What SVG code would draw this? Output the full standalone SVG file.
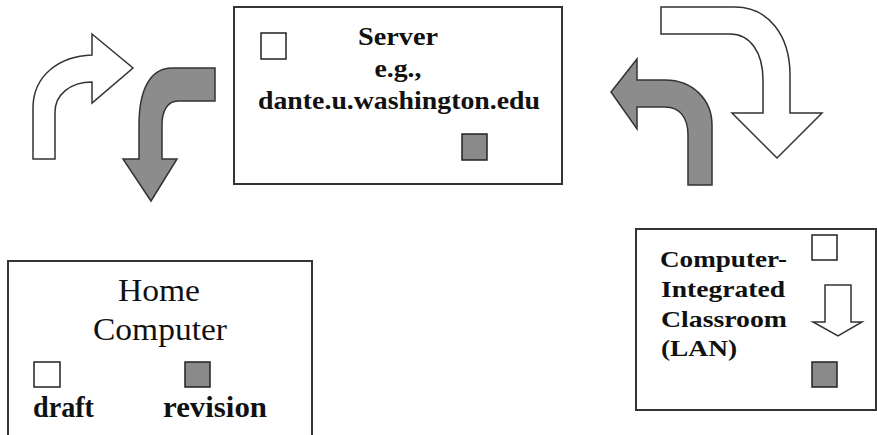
<svg xmlns="http://www.w3.org/2000/svg" width="877" height="435" viewBox="0 0 877 435">
  <style>
    .box { fill: #ffffff; stroke: #333333; stroke-width: 2; }
    .sq-w { fill: #ffffff; stroke: #222222; stroke-width: 1.5; }
    .sq-g { fill: #8a8a8a; stroke: #222222; stroke-width: 1.5; }
    .arr-w { fill: #ffffff; stroke: #333333; stroke-width: 1.5; stroke-linejoin: miter; }
    .arr-g { fill: #8c8c8c; stroke: #333333; stroke-width: 1.5; stroke-linejoin: miter; }
    .serif { font-family: "Liberation Serif", "Times New Roman", serif; fill: #111111; }
    .bold { font-weight: bold; }
  </style>
  <rect width="877" height="435" fill="#ffffff"/>

  <!-- Server -->
  <g id="server">
    <rect class="box" x="234" y="7" width="328" height="177"/>
    <rect class="sq-w" x="261" y="33" width="25" height="26"/>
    <rect class="sq-g" x="462" y="134" width="25" height="26"/>
    <text class="serif bold" font-size="26" text-anchor="middle" x="398" y="45" textLength="80" lengthAdjust="spacingAndGlyphs">Server</text>
    <text class="serif bold" font-size="26" text-anchor="middle" x="398" y="77" textLength="47" lengthAdjust="spacingAndGlyphs">e.g.,</text>
    <text class="serif bold" font-size="26" text-anchor="middle" x="399" y="109" textLength="282" lengthAdjust="spacingAndGlyphs">dante.u.washington.edu</text>
  </g>

  <!-- Home Computer -->
  <g id="home">
    <rect class="box" x="8" y="261" width="304" height="185"/>
    <text class="serif" font-size="32" text-anchor="middle" x="159" y="301" textLength="82" lengthAdjust="spacingAndGlyphs">Home</text>
    <text class="serif" font-size="32" text-anchor="middle" x="160" y="340" textLength="134" lengthAdjust="spacingAndGlyphs">Computer</text>
    <rect class="sq-w" x="34" y="362" width="26" height="25"/>
    <rect class="sq-g" x="185" y="362" width="25" height="25"/>
    <text class="serif bold" font-size="29" x="33" y="417" textLength="61" lengthAdjust="spacingAndGlyphs">draft</text>
    <text class="serif bold" font-size="29" x="163" y="417" textLength="104" lengthAdjust="spacingAndGlyphs">revision</text>
  </g>

  <!-- Computer-Integrated Classroom -->
  <g id="classroom">
    <rect class="box" x="636" y="229" width="240" height="181"/>
    <text class="serif bold" font-size="24" x="660" y="267" textLength="127" lengthAdjust="spacingAndGlyphs">Computer-</text>
    <text class="serif bold" font-size="24" x="661" y="297" textLength="124" lengthAdjust="spacingAndGlyphs">Integrated</text>
    <text class="serif bold" font-size="24" x="661" y="327" textLength="126" lengthAdjust="spacingAndGlyphs">Classroom</text>
    <text class="serif bold" font-size="24" x="661" y="356" textLength="76" lengthAdjust="spacingAndGlyphs">(LAN)</text>
    <rect class="sq-w" x="812" y="235" width="25" height="25"/>
    <path class="arr-w" d="M825,285 L851,285 L851,322 L862,322 L838,336 L813,322 L825,322 Z"/>
    <rect class="sq-g" x="812" y="362" width="25" height="25"/>
  </g>

  <!-- Transfer arrows -->
  <g id="connectors">
    <!-- home to server (white, up and right) -->
    <path class="arr-w" d="M33,159 L33,108 C33,75 60,56 92,55 L92,34 L133,68 L92,103 L92,82 C70,82 55,95 55,112 L55,159 Z"/>
    <!-- server to home (gray, left and down) -->
    <path class="arr-g" d="M215,68 L172,68 C150,68 139,90 139,125 L139,159 L123,159 L151,201 L177,159 L162,159 L162,125 C162,110 168,101 178,101 L215,101 Z"/>
    <!-- server to classroom (white, right and down) -->
    <path class="arr-w" d="M661,7 L735,7 C768,7 790,35 790,75 L790,113 L822,113 L777,158 L732,113 L763,113 L763,80 C763,52 750,34 730,34 L661,34 Z"/>
    <!-- classroom to server (gray, up and left) -->
    <path class="arr-g" d="M688,185 L688,135 C688,118 680,107 665,107 L637,107 L637,129 L611,92 L637,59 L637,80 L665,80 C693,80 712,100 712,125 L712,185 Z"/>
  </g>
</svg>
